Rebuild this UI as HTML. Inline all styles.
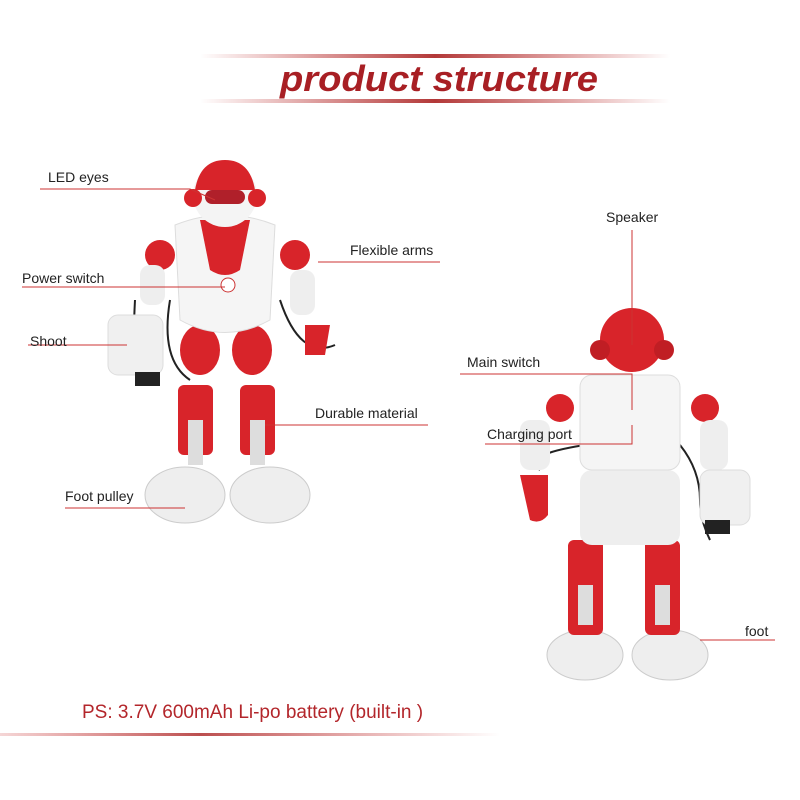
<!DOCTYPE html>
<html><head><meta charset="utf-8"><style>
body{margin:0;width:800px;height:800px;background:#fff;overflow:hidden;position:relative;font-family:"Liberation Sans",sans-serif}
.t{position:absolute;font-size:14px;color:#222;white-space:nowrap}
</style></head><body>
<svg width="800" height="800" style="position:absolute;left:0;top:0">
<defs>
<linearGradient id="g" x1="0" x2="1"><stop offset="0" stop-color="#b22" stop-opacity="0"/><stop offset="0.5" stop-color="#a22" stop-opacity="0.9"/><stop offset="1" stop-color="#b22" stop-opacity="0"/></linearGradient>
<linearGradient id="g2" x1="0" x2="1"><stop offset="0" stop-color="#c33" stop-opacity="0.2"/><stop offset="0.4" stop-color="#a22" stop-opacity="0.8"/><stop offset="1" stop-color="#c33" stop-opacity="0"/></linearGradient>
</defs>
<rect x="200" y="54" width="470" height="4" fill="url(#g)"/>
<rect x="200" y="99" width="470" height="4" fill="url(#g)"/>
<text x="439" y="91" text-anchor="middle" font-family="Liberation Sans" font-weight="bold" font-style="italic" font-size="36" fill="#a81f24" textLength="318" lengthAdjust="spacingAndGlyphs">product structure</text>
<rect x="0" y="733" width="500" height="3" fill="url(#g2)"/>

<!-- left robot -->
<g>
<path d="M170 300 Q160 360 190 380" stroke="#222" stroke-width="2" fill="none"/>
<path d="M280 300 Q300 360 335 345" stroke="#222" stroke-width="2" fill="none"/>
<path d="M135 300 Q130 390 150 380" stroke="#222" stroke-width="2" fill="none"/>
<ellipse cx="185" cy="495" rx="40" ry="28" fill="#eee" stroke="#ccc"/>
<ellipse cx="270" cy="495" rx="40" ry="28" fill="#eee" stroke="#ccc"/>
<rect x="178" y="385" width="35" height="70" rx="6" fill="#d8242a"/>
<rect x="240" y="385" width="35" height="70" rx="6" fill="#d8242a"/>
<rect x="188" y="420" width="15" height="45" fill="#ddd"/>
<rect x="250" y="420" width="15" height="45" fill="#ddd"/>
<ellipse cx="200" cy="350" rx="20" ry="25" fill="#d8242a"/>
<ellipse cx="252" cy="350" rx="20" ry="25" fill="#d8242a"/>
<path d="M175 225 Q225 205 275 225 L270 320 Q225 345 180 320 Z" fill="#f5f5f5" stroke="#ddd"/>
<path d="M200 220 L250 220 L240 270 Q225 280 210 270 Z" fill="#d8242a"/>
<circle cx="228" cy="285" r="7" fill="#fff" stroke="#c33"/>
<circle cx="225" cy="195" r="32" fill="#f4f4f4"/>
<path d="M195 190 Q200 160 225 160 Q250 160 255 190 Z" fill="#d8242a"/>
<rect x="205" y="190" width="40" height="14" rx="7" fill="#b0202a"/>
<circle cx="193" cy="198" r="9" fill="#d8242a"/><circle cx="257" cy="198" r="9" fill="#d8242a"/>
<circle cx="160" cy="255" r="15" fill="#d8242a"/>
<circle cx="295" cy="255" r="15" fill="#d8242a"/>
<rect x="140" y="265" width="25" height="40" rx="10" fill="#eee"/>
<rect x="290" y="270" width="25" height="45" rx="10" fill="#eee"/>
<rect x="108" y="315" width="55" height="60" rx="10" fill="#f0f0f0" stroke="#ddd"/>
<rect x="135" y="372" width="25" height="14" fill="#222"/>
<path d="M305 325 L330 325 L325 355 L305 355 Z" fill="#d8242a"/>
</g>

<!-- right robot -->
<g>
<path d="M585 445 Q520 455 540 470" stroke="#222" stroke-width="2" fill="none"/>
<path d="M680 445 Q700 470 700 500 Q700 520 710 540" stroke="#222" stroke-width="2" fill="none"/>
<ellipse cx="585" cy="655" rx="38" ry="25" fill="#eee" stroke="#ccc"/>
<ellipse cx="670" cy="655" rx="38" ry="25" fill="#eee" stroke="#ccc"/>
<rect x="568" y="540" width="35" height="95" rx="6" fill="#d8242a"/>
<rect x="645" y="540" width="35" height="95" rx="6" fill="#d8242a"/>
<rect x="578" y="585" width="15" height="40" fill="#ddd"/>
<rect x="655" y="585" width="15" height="40" fill="#ddd"/>
<rect x="580" y="470" width="100" height="75" rx="12" fill="#eee"/>
<rect x="580" y="375" width="100" height="95" rx="12" fill="#f5f5f5" stroke="#ddd"/>
<circle cx="632" cy="340" r="32" fill="#d8242a"/>
<circle cx="600" cy="350" r="10" fill="#c01e24"/><circle cx="664" cy="350" r="10" fill="#c01e24"/>
<circle cx="560" cy="408" r="14" fill="#d8242a"/><circle cx="705" cy="408" r="14" fill="#d8242a"/>
<rect x="520" y="420" width="30" height="50" rx="10" fill="#eee"/>
<rect x="700" y="420" width="28" height="50" rx="10" fill="#eee"/>
<path d="M520 475 L548 475 L548 515 Q540 525 530 520 Z" fill="#d8242a"/>
<rect x="700" y="470" width="50" height="55" rx="10" fill="#f0f0f0" stroke="#ddd"/>
<rect x="705" y="520" width="25" height="14" fill="#222"/>
</g>

<g stroke="#c33" stroke-width="1" fill="none">
<polyline points="40,189 190,189 215,200"/>
<line x1="22" y1="287" x2="225" y2="287"/>
<line x1="28" y1="345" x2="127" y2="345"/>
<line x1="65" y1="508" x2="185" y2="508"/>
<line x1="318" y1="262" x2="440" y2="262"/>
<line x1="265" y1="425" x2="428" y2="425"/>
<line x1="632" y1="230" x2="632" y2="345"/>
<polyline points="460,374 632,374 632,410"/>
<polyline points="485,444 632,444 632,425"/>
<line x1="700" y1="640" x2="775" y2="640"/>
</g>
</svg>
<div class="t" style="left:48px;top:169px">LED eyes</div>
<div class="t" style="left:22px;top:270px">Power switch</div>
<div class="t" style="left:30px;top:333px">Shoot</div>
<div class="t" style="left:65px;top:488px">Foot pulley</div>
<div class="t" style="left:350px;top:242px">Flexible arms</div>
<div class="t" style="left:315px;top:405px">Durable material</div>
<div class="t" style="left:606px;top:209px">Speaker</div>
<div class="t" style="left:467px;top:354px">Main switch</div>
<div class="t" style="left:487px;top:426px">Charging port</div>
<div class="t" style="left:745px;top:623px">foot</div>
<div class="t" style="left:82px;top:702px;font-size:19px;color:#b3262b">PS: 3.7V 600mAh Li-po battery (built-in )</div>
</body></html>
